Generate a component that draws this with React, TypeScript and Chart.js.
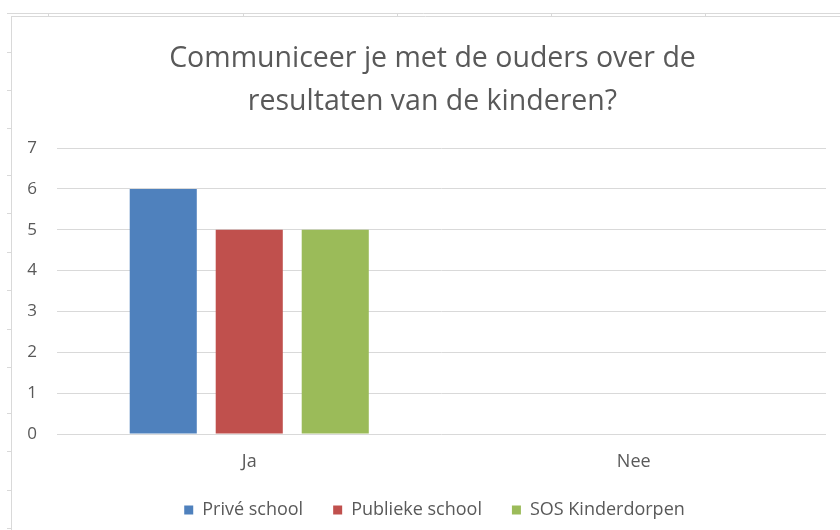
import React, { useEffect, useRef } from "react";
import { Chart, registerables } from "chart.js";

Chart.register(...registerables);

const categories = ["Ja", "Nee"];
const seriesNames = ["Privé school", "Publieke school", "SOS Kinderdorpen"];
const priveSchool = [6, 0];
const publiekeSchool = [5, 0];
const sosKinderdorpen = [5, 0];
const yTicks = [0, 1, 2, 3, 4, 5, 6, 7];
const titleLines = ["Communiceer je met de ouders over de", "resultaten van de kinderen?"];

const colors = ["#4f81bd", "#c0504d", "#9bbb59"];
const FONT = "'Open Sans', 'Noto Sans', sans-serif";
const TEXT = "#595959";

const framePlugin = {
  id: "sheetFrame",
  afterLayout(chart: any) {
    if (chart.titleBlock) {
      chart.titleBlock.left += 14;
      chart.titleBlock.right += 14;
    }
    if (chart.legend) {
      chart.legend.left += 16;
      chart.legend.right += 16;
    }
  },
  beforeDraw(chart: any) {
    const ctx = chart.ctx;
    ctx.save();
    ctx.fillStyle = "#ffffff";
    ctx.fillRect(0, 0, chart.width, chart.height);
    ctx.strokeStyle = "#d9d9d9";
    ctx.lineWidth = 1;
    ctx.beginPath();
    ctx.moveTo(7, 13.5);
    ctx.lineTo(840, 13.5);
    ctx.moveTo(11, 16.5);
    ctx.lineTo(840, 16.5);
    ctx.moveTo(11.5, 16);
    ctx.lineTo(11.5, 530);
    [48, 243, 397, 551, 705].forEach((x) => {
      ctx.moveTo(x + 0.5, 13);
      ctx.lineTo(x + 0.5, 16);
    });
    [52, 90, 128, 175, 213, 252, 290, 329, 367, 413, 451, 490, 528].forEach((y) => {
      ctx.moveTo(7, y + 0.5);
      ctx.lineTo(11, y + 0.5);
    });
    ctx.stroke();
    ctx.restore();
  },
};

export default function App() {
  const ref = useRef<HTMLCanvasElement | null>(null);
  useEffect(() => {
    if (!ref.current) return;
    const datasets = [priveSchool, publiekeSchool, sosKinderdorpen].map((d, i) => ({
      label: seriesNames[i],
      data: d,
      backgroundColor: colors[i],
      borderColor: colors[i],
      borderWidth: 0,
      categoryPercentage: 0.671,
      barPercentage: 0.78,
    }));
    const chart = new Chart(ref.current, {
      type: "bar",
      data: { labels: categories, datasets },
      plugins: [framePlugin],
      options: {
        animation: false,
        responsive: false,
        maintainAspectRatio: false,
        layout: { padding: { left: 11, right: 14, top: 20, bottom: 1 } },
        plugins: {
          title: {
            display: true,
            text: titleLines,
            color: TEXT,
            font: { family: FONT, size: 28.5, weight: "normal", lineHeight: 1.52 },
            padding: { top: 17, bottom: 24.5 },
          },
          legend: {
            position: "bottom",
            labels: {
              color: TEXT,
              font: { family: FONT, size: 18 },
              boxWidth: 9,
              boxHeight: 9,
              padding: 30,
            },
          },
          tooltip: { enabled: false },
        },
        scales: {
          x: {
            afterFit(scale: any) {
              scale.height = 37;
            },
            grid: { display: false, drawTicks: false },
            border: { display: false },
            ticks: { color: TEXT, font: { family: FONT, size: 18 }, padding: 17 },
          },
          y: {
            min: 0,
            max: 7,
            afterFit(scale: any) {
              scale.width = 46;
            },
            afterBuildTicks(scale: any) {
              scale.ticks = yTicks.map((v) => ({ value: v }));
            },
            grid: { color: "#d9d9d9", drawTicks: false, lineWidth: 1 },
            border: { display: false },
            ticks: { color: TEXT, font: { family: FONT, size: 17 }, padding: 20, stepSize: 1 },
          },
        },
      },
    });
    return () => chart.destroy();
  }, []);
  return (
    <div style={{ position: "fixed", left: 0, top: 0, width: 840, height: 530, background: "#fff" }}>
      <canvas ref={ref} width={840} height={530} style={{ width: 840, height: 530 }} />
    </div>
  );
}
